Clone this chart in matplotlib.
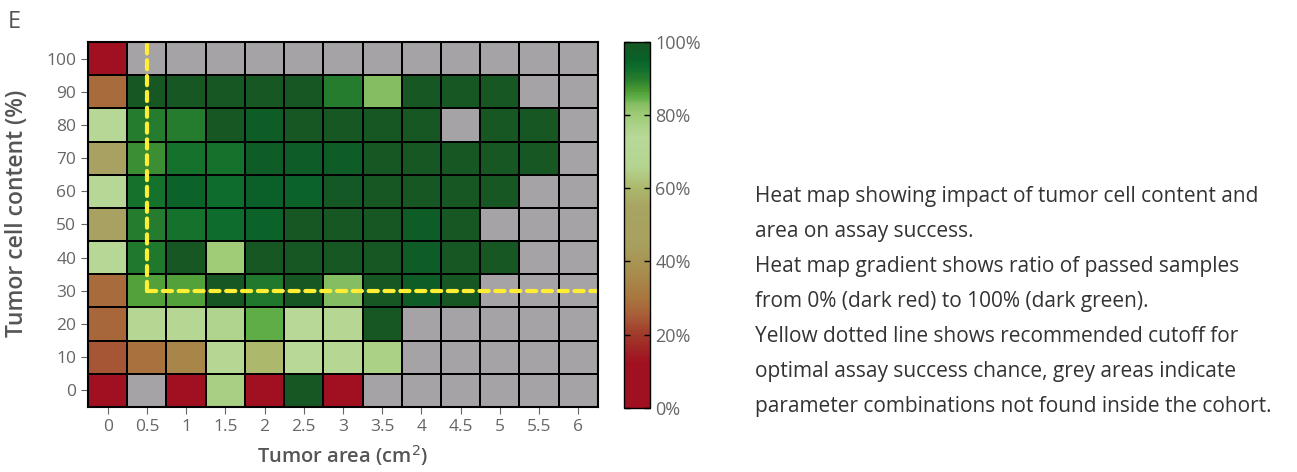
import numpy as np
import matplotlib.pyplot as plt
from matplotlib.colors import LinearSegmentedColormap

plt.rcParams['font.family'] = ['Open Sans', 'DejaVu Sans']

# data
tumor_area = [0, 0.5, 1, 1.5, 2, 2.5, 3, 3.5, 4, 4.5, 5, 5.5, 6]  # cm2
cell_content = [0, 10, 20, 30, 40, 50, 60, 70, 80, 90, 100]  # %
nan = np.nan
# pass ratio (%), one row per cell content level, grey (nan) = not in cohort
pass_ratio = [
    [0, nan, 0, 78, 0, 100, 0, nan, nan, nan, nan, nan, nan],        # 0
    [24, 29, 35, 70, 60, 74, 70, 77, nan, nan, nan, nan, nan],       # 10
    [27, 70, 70, 76, 85, 74, 70, 100, nan, nan, nan, nan, nan],      # 20
    [28, 86, 86, 100, 91, 100, 83, 100, 97, 100, nan, nan, nan],     # 30
    [72, 91, 100, 80, 100, 100, 100, 100, 97, 100, 100, nan, nan],   # 40
    [48, 90, 92, 93, 95, 100, 100, 100, 97, 100, nan, nan, nan],     # 50
    [72, 92, 95, 93, 96, 95, 99, 100, 100, 100, 100, nan, nan],      # 60
    [48, 88, 92, 92, 97, 97, 97, 100, 100, 100, 100, 100, nan],      # 70
    [72, 90, 90, 100, 97, 100, 100, 100, 100, nan, 100, 100, nan],   # 80
    [28, 100, 100, 100, 100, 100, 90, 83, 100, 100, 100, nan, nan],  # 90
    [0, nan, nan, nan, nan, nan, nan, nan, nan, nan, nan, nan, nan], # 100
]
cutoff_area = 0.5
cutoff_content = 30
cbar_ticks = [0, 20, 40, 60, 80, 100]

description = ("Heat map showing impact of tumor cell content and\n"
               "area on assay success.\n"
               "Heat map gradient shows ratio of passed samples\n"
               "from 0% (dark red) to 100% (dark green).\n"
               "Yellow dotted line shows recommended cutoff for\n"
               "optimal assay success chance, grey areas indicate\n"
               "parameter combinations not found inside the cohort.")

# colormap red -> olive -> light green -> dark green
nodes = [(0.00, '#A01020'), (0.12, '#A01020'), (0.20, '#A03A2A'),
         (0.25, '#A85C38'), (0.30, '#A8763E'), (0.38, '#A89050'),
         (0.45, '#A8A060'), (0.55, '#A8A462'), (0.60, '#ACB86C'),
         (0.66, '#B4D490'), (0.74, '#B8D898'), (0.80, '#A0CC78'),
         (0.83, '#88BE64'), (0.85, '#60AE48'), (0.87, '#4A9A34'),
         (0.90, '#287D2E'), (0.93, '#0E6E2C'), (0.96, '#0A6028'),
         (1.00, '#165724')]
cmap = LinearSegmentedColormap.from_list('pass', nodes)
cmap.set_bad('#A5A3A5')

grey = '#666666'
fig = plt.figure(figsize=(12.97, 4.72), dpi=100)
ax = fig.add_axes([0.0679, 0.138, 0.393, 0.773])
cax = fig.add_axes([0.481, 0.136, 0.020, 0.775])

x = np.array(tumor_area)
y = np.array(cell_content)
xe = np.append(x - 0.25, x[-1] + 0.25)
ye = np.append(y - 5, y[-1] + 5)
z = np.ma.masked_invalid(np.array(pass_ratio, dtype=float))
mesh = ax.pcolormesh(xe, ye, z, cmap=cmap, vmin=0, vmax=100,
                     edgecolors='black', linewidth=1.1)

# recommended cutoff
ax.plot([cutoff_area, cutoff_area], [cutoff_content, ye[-1]],
        color='#FFEE33', lw=3, ls=(0, (2.2, 1.6)), dash_capstyle='round')
ax.plot([cutoff_area, xe[-1]], [cutoff_content, cutoff_content],
        color='#FFEE33', lw=3, ls=(0, (2.2, 1.6)), dash_capstyle='round')

ax.set_xlim(xe[0], xe[-1])
ax.set_ylim(ye[0], ye[-1])
ax.set_xticks(x)
ax.set_xticklabels([f'{v:g}' for v in x])
ax.set_yticks(y)
ax.tick_params(colors=grey, labelsize=12.5, length=5, width=0.8)
for s in ax.spines.values():
    s.set_color('black')
    s.set_linewidth(1.5)
ax.set_xlabel('Tumor area (cm$^2$)', color='#555555', fontsize=14.5,
              fontweight='semibold', labelpad=6)
ax.set_ylabel('Tumor cell content (%)', color='#555555', fontsize=16.5,
              fontweight='semibold')
ax.yaxis.set_label_coords(-0.115, 0.53)

cb = fig.colorbar(mesh, cax=cax, ticks=cbar_ticks)
cb.ax.set_yticklabels([f'{t}%' for t in cbar_ticks])
cb.ax.tick_params(direction='in', left=True, right=True, length=4, width=1,
                  color='black', labelcolor=grey, labelsize=13, pad=4)
cb.outline.set_linewidth(1)

fig.text(0.006, 0.94, 'E', fontsize=17, color='#555555')
fig.text(0.582, 0.605, description, fontsize=15, color='#333333',
         va='top', linespacing=1.87)

fig.savefig('out.png', dpi=100)
